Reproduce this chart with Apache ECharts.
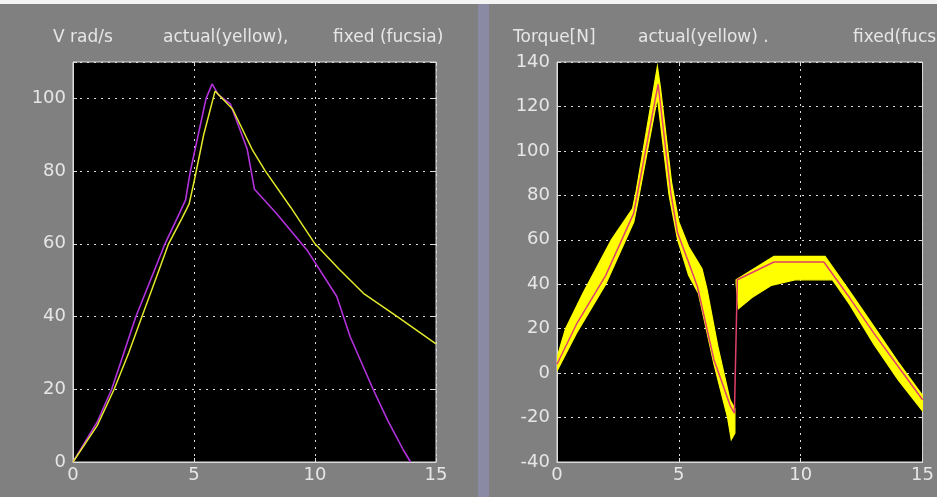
<!DOCTYPE html>
<html>
<head>
<meta charset="utf-8">
<script src="https://cdn.jsdelivr.net/npm/echarts@6/dist/echarts.min.js"></script>
<style>
html,body{margin:0;padding:0;background:#808080;}
#chart{width:937px;height:497px;}
</style>
</head>
<body>
<div id="chart"></div>
<script>
// ---------- data ----------
// Left panel: angular velocity V [rad/s] vs time
const xTicks = [0, 5, 10, 15];
const velYTicks = [0, 20, 40, 60, 80, 100];
const torqueYTicks = [-40, -20, 0, 20, 40, 60, 80, 100, 120, 140];

const velActual = [[0,0],[1,10],[1.7,20],[2.3,30],[2.85,40],[3.4,50],[3.95,60],[4.5,67],[4.8,71],[5.0,77],[5.4,90],[5.87,102],[6.6,97],[7.4,86],[7.95,80],[9,70],[10,60],[11,53],[12,46.4],[13.4,40],[15,32.5]];
const velFixed = [[0,0],[1,11],[1.6,20],[2.1,30],[2.6,40],[3.2,50],[3.8,60],[4.3,67],[4.65,72],[4.85,80],[5.5,100],[5.75,104],[6.0,101],[6.5,98.5],[7.2,86],[7.5,75],[8.4,68.4],[9.7,58],[10.9,45.5],[11.45,34.5],[12.4,20],[13,11.5],[13.65,3.3],[13.95,0]];

// Right panel: torque [N] vs time
const torqueFixed = [[0,4],[0.8,22],[2,44],[3.15,72],[4.15,130],[4.67,81],[4.95,63],[5.36,51],[5.76,39],[6.44,6],[7.12,-15],[7.28,-18],[7.4,42],[8.9,50],[10.95,50],[12,34],[13,18],[14,3],[15,-12]];
// actual torque: noisy band (upper / lower envelope), two segments
const torqueUpperA = [[0,7],[0.35,20],[1.07,36],[2.23,60],[3.1,74],[3.25,82],[4.12,138],[4.25,128],[4.7,86],[5.0,68],[5.4,57],[5.95,47],[6.15,38],[6.6,12],[7.1,-12],[7.3,-16]];
const torqueLowerA = [[0,1],[0.8,18],[2,40],[3.15,68],[3.3,76],[4.12,124],[4.6,80],[4.95,60],[5.4,44],[5.8,36],[6.44,4],[7.0,-20],[7.15,-30],[7.3,-27]];
const torqueUpperB = [[7.35,42],[8.9,52.5],[11.0,52.5],[12,37],[13,21],[14,5],[15,-10]];
const torqueLowerB = [[7.35,40],[7.45,29],[8,34],[8.8,39.5],[9.8,42],[10.95,42],[11.3,42],[12,31],[13,13],[14,-3],[15,-17]];

// ---------- styling ----------
const FONT = 'DejaVu Sans';
const TXT = '#e6e6e6';
const GRIDC = '#dcdcdc';

function xAx(gi, top) {
  return {
    type: 'value', gridIndex: gi, min: 0, max: 15, interval: 5,
    position: top ? 'top' : 'bottom',
    axisLine: { show: !top, onZero: false, lineStyle: { color: GRIDC, width: 1 } },
    axisTick: { show: true, inside: true, length: 4, lineStyle: { color: GRIDC } },
    axisLabel: { show: !top, color: TXT, fontFamily: FONT, fontSize: 18, margin: 4,
      formatter: v => (xTicks.indexOf(v) >= 0 ? String(v) : '') },
    splitLine: { show: !top, lineStyle: { color: GRIDC, type: [2, 5], width: 1 } }
  };
}
function yAx(gi, right, min, max, ticks) {
  return {
    type: 'value', gridIndex: gi, min: min, max: max, interval: 20,
    position: right ? 'right' : 'left',
    axisLine: { show: !right, onZero: false, lineStyle: { color: GRIDC, width: 1 } },
    axisTick: { show: true, inside: true, length: 4, lineStyle: { color: GRIDC } },
    axisLabel: { show: !right, color: TXT, fontFamily: FONT, fontSize: 18, margin: 7,
      formatter: v => (ticks.indexOf(v) >= 0 ? String(v) : '') },
    splitLine: { show: !right, lineStyle: { color: GRIDC, type: [2, 5], width: 1 } }
  };
}

function bandSeries(upper, lower) {
  return {
    type: 'custom', xAxisIndex: 1, yAxisIndex: 1, silent: true, z: 2, clip: true,
    data: [upper[0]],
    renderItem: function (params, api) {
      const pts = upper.concat(lower.slice().reverse()).map(p => api.coord(p));
      return { type: 'polygon', shape: { points: pts },
        style: { fill: '#ffff00', stroke: '#ffff00', lineWidth: 1.2 } };
    }
  };
}

const titleStyle = { fill: TXT, font: '17px "DejaVu Sans"', textVerticalAlign: 'middle' };
function txt(x, s) {
  return { type: 'text', x: x, y: 38, style: Object.assign({ text: s }, titleStyle) };
}

const chart = echarts.init(document.getElementById('chart'), null, { renderer: 'canvas' });
chart.setOption({
  animation: false,
  backgroundColor: '#808080',
  graphic: [
    { type: 'rect', shape: { x: 0, y: 0, width: 937, height: 4 }, style: { fill: '#f4f4f4' }, z: -1 },
    { type: 'rect', shape: { x: 478, y: 4, width: 11, height: 493 }, style: { fill: '#8a8aa4' }, z: -1 },
    txt(53, 'V rad/s'), txt(163, 'actual(yellow),'), txt(333, 'fixed (fucsia)'),
    txt(513, 'Torque[N]'), txt(638, 'actual(yellow) .'), txt(853, 'fixed(fucsia)')
  ],
  grid: [
    { left: 73, top: 62, width: 363, height: 400, show: true, backgroundColor: '#000', borderColor: GRIDC, borderWidth: 1 },
    { left: 557, top: 62, width: 368, height: 400, show: true, backgroundColor: '#000', borderColor: GRIDC, borderWidth: 1 }
  ],
  xAxis: [xAx(0, false), xAx(1, false), xAx(0, true), xAx(1, true)],
  yAxis: [yAx(0, false, 0, 110, velYTicks), yAx(1, false, -40, 140, torqueYTicks),
          yAx(0, true, 0, 110, velYTicks), yAx(1, true, -40, 140, torqueYTicks)],
  series: [
    { type: 'line', xAxisIndex: 0, yAxisIndex: 0, data: velFixed, showSymbol: false, z: 3,
      lineStyle: { color: '#b232dc', width: 1.6 } },
    { type: 'line', xAxisIndex: 0, yAxisIndex: 0, data: velActual, showSymbol: false, z: 4,
      lineStyle: { color: '#e2e82a', width: 1.5 } },
    bandSeries(torqueUpperA, torqueLowerA),
    bandSeries(torqueUpperB, torqueLowerB),
    { type: 'line', xAxisIndex: 1, yAxisIndex: 1, data: torqueFixed, showSymbol: false, z: 5,
      lineStyle: { color: '#e0406a', width: 1.5 } }
  ]
});
</script>
</body>
</html>
